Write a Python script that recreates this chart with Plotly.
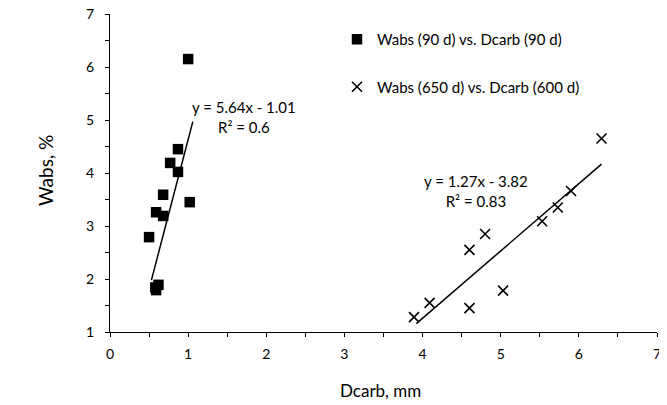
import plotly.graph_objects as go
import numpy as np

# Data
d90_x = [1.00, 1.02, 0.87, 0.87, 0.77, 0.68, 0.68, 0.59, 0.50, 0.62, 0.58, 0.59]
d90_y = [6.15, 3.45, 4.45, 4.02, 4.19, 3.59, 3.19, 3.26, 2.79, 1.89, 1.84, 1.79]

d650_x = [6.29, 5.90, 5.73, 5.53, 4.80, 4.60, 5.03, 4.60, 4.09, 3.89]
d650_y = [4.65, 3.66, 3.35, 3.09, 2.85, 2.55, 1.78, 1.45, 1.55, 1.28]

fit90 = (5.64, -1.01)
fit90_range = [0.53, 1.06]
fit650 = (1.27, -3.82)
fit650_range = [3.92, 6.29]

eq90_label = ["y = 5.64x - 1.01", "R² = 0.6"]
eq650_label = ["y = 1.27x - 3.82", "R² = 0.83"]

FONT = "Lato, 'Open Sans', sans-serif"
OFF = 8  # default page body margin
W, H = 667 - OFF, 405 - OFF
# plot area in page pixels: x 110..657, y 14..332
L, T = 110 - OFF, 14 - OFF
R = W - (657 - OFF)
B = H - (332 - OFF)
PW, PH = W - L - R, H - T - B


def px(xp):  # page x -> paper fraction
    return (xp - OFF - L) / PW


def py(yp):  # page y -> paper fraction
    return ((H - B) - (yp - OFF)) / PH


fig = go.Figure()

fig.add_trace(go.Scatter(
    x=d90_x, y=d90_y, mode="markers", name="Wabs (90 d) vs. Dcarb (90 d)",
    legendgroup="a",
    marker=dict(symbol="square", size=10.5, color="black"),
))
fig.add_trace(go.Scatter(
    x=d650_x, y=d650_y, mode="markers", name="Wabs (650 d) vs. Dcarb (600 d)",
    legendgroup="b",
    marker=dict(symbol="x-thin", size=10, color="black",
                line=dict(width=1.6, color="black")),
))

for (m, c), rng in [(fit90, fit90_range), (fit650, fit650_range)]:
    xs = np.array(rng)
    fig.add_trace(go.Scatter(
        x=xs, y=m * xs + c, mode="lines", showlegend=False,
        line=dict(color="black", width=1.5), hoverinfo="skip",
    ))

fig.add_annotation(x=1.71, y=5.06, text="<br>".join(eq90_label), showarrow=False,
                   font=dict(family=FONT, size=15, color="black"), align="center")
fig.add_annotation(x=4.69, y=3.66, text="<br>".join(eq650_label), showarrow=False,
                   font=dict(family=FONT, size=15, color="black"), align="center")

# Axis titles
fig.add_annotation(xref="paper", yref="paper", x=px(380), y=py(390),
                   text="Dcarb, mm", showarrow=False, yanchor="middle",
                   font=dict(family=FONT, size=17, color="black"))
fig.add_annotation(xref="paper", yref="paper", x=px(45), y=py(171),
                   text="Wabs, %", showarrow=False, textangle=-90, xanchor="center",
                   yanchor="middle", font=dict(family=FONT, size=19, color="black"))

axis_common = dict(
    showgrid=False, zeroline=False, showline=True, linecolor="black", linewidth=1,
    ticks="outside", ticklen=4, tickcolor="black", tickwidth=1,
    minor=dict(ticks="outside", ticklen=4, tickcolor="black", tickwidth=1, dtick=0.5),
    tickfont=dict(family=FONT, size=14, color="black"),
    dtick=1, automargin=False, ticklabeloverflow="allow",
)

fig.update_xaxes(range=[0, 7], tick0=0, ticklabelstandoff=5, **axis_common)
fig.update_yaxes(range=[1, 7], tick0=1, ticklabelstandoff=8, **axis_common)

fig.update_layout(
    width=W, height=H,
    margin=dict(l=L, r=R, t=T, b=B),
    plot_bgcolor="white", paper_bgcolor="white",
    font=dict(family=FONT, color="black"),
    legend=dict(x=px(337), y=py(23), xanchor="left", yanchor="top",
                font=dict(family=FONT, size=15, color="black"),
                tracegroupgap=25, bgcolor="rgba(0,0,0,0)"),
)

fig.write_html("out.html")
